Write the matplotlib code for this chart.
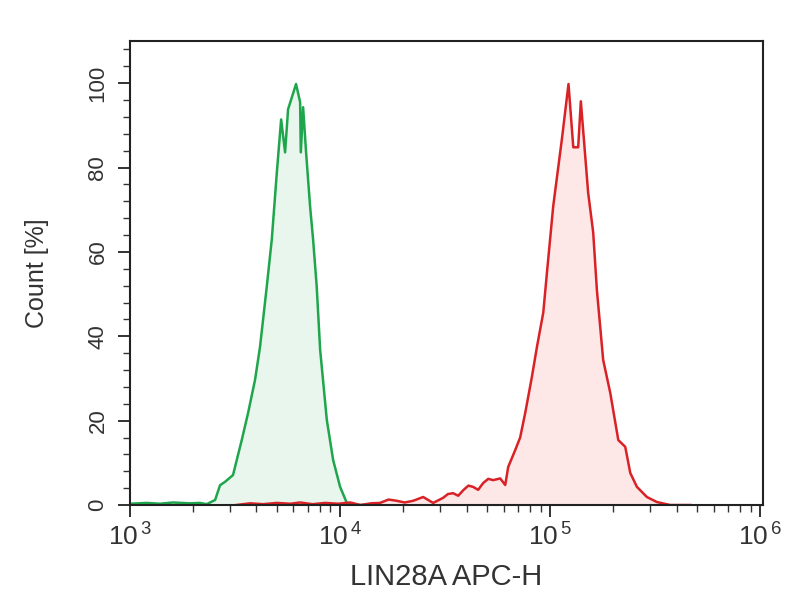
import matplotlib.pyplot as plt
from matplotlib.ticker import FixedLocator, MultipleLocator, NullFormatter

plt.rcParams['font.family'] = ['Liberation Sans', 'DejaVu Sans']
plt.rcParams['mathtext.fontset'] = 'custom'
plt.rcParams['mathtext.rm'] = 'Liberation Sans'

# green histogram (control), LIN28A APC-H value vs count %
green_x = [1000, 1200, 1389, 1600, 1931, 2150, 2318, 2541, 2683, 2834, 3092,
           3403, 3647, 3937, 4158, 4477, 4731, 4998, 5240, 5472, 5654, 6170,
           6452, 6500, 6666, 6888, 7196, 7436, 7738, 8035, 8643, 9262, 10000,
           10763, 12017, 13894]
green_y = [0.3, 0.5, 0.3, 0.6, 0.4, 0.5, 0.2, 1.2, 4.7, 5.5, 7.1,
           15.4, 21.8, 29.7, 37.5, 51.8, 63.0, 78.8, 91.4, 83.6, 93.8, 99.8,
           95.5, 83.6, 94.3, 83.6, 70.8, 63.0, 51.8, 36.8, 20.2, 10.7, 4.3,
           0.5, 0.0, 0.0]

# red histogram (LIN28A stained)
red_x = [3200, 3727, 4300, 5000, 5800, 6452, 7400, 8500, 9800, 11164, 12500,
         14000, 15497, 17000, 18607, 20300, 22265, 24851, 27722, 30925, 32600,
         34504, 36500, 38537, 40800, 42975, 45400, 47947, 50700, 53546, 57809,
         61094, 63096, 68113, 71943, 76030, 81846, 86488, 92680, 96460, 103340,
         113650, 122200, 128800, 135900, 139900, 151600, 160200, 166800,
         178700, 193100, 210900, 227600, 240500, 258700, 288500, 322200,
         372800, 464200]
red_y = [0.0, 0.4, 0.2, 0.5, 0.3, 0.6, 0.2, 0.5, 0.3, 0.6, 0.0,
         0.4, 0.5, 1.3, 1.0, 0.6, 1.0, 1.9, 0.5, 1.7, 2.6,
         2.8, 2.2, 3.5, 4.6, 4.3, 3.6, 5.2, 6.2, 5.9, 6.3,
         4.75, 9.0, 13.0, 16.0, 21.8, 30.4, 37.5, 45.6, 55.0, 70.8,
         86.7, 99.8, 84.8, 84.8, 95.7, 74.0, 64.6, 51.0,
         34.4, 26.6, 15.4, 13.8, 7.6, 4.3, 1.9, 0.7,
         0.0, 0.0]

fig = plt.figure(figsize=(8.04, 6.0), dpi=100)
ax = fig.add_axes([0.1617, 0.1583, 0.7873, 0.7734])

ax.fill_between(green_x, green_y, 0, color='#e9f6ed', lw=0)
ax.fill_between(red_x, red_y, 0, color='#fde7e7', lw=0)
ax.plot(green_x, green_y, color='#1fa64c', lw=1.8)
ax.plot(red_x, red_y, color='#d92226', lw=1.8)

ax.set_xscale('log')
ax.set_xlim(1000, 1.03e6)
ax.set_ylim(0, 110)

ax.xaxis.set_major_locator(FixedLocator([1e3, 1e4, 1e5, 1e6]))
ax.set_xticklabels([r'$\mathregular{10^{\,3}}$', r'$\mathregular{10^{\,4}}$',
                    r'$\mathregular{10^{\,5}}$', r'$\mathregular{10^{\,6}}$'])
ax.xaxis.set_minor_formatter(NullFormatter())
ax.yaxis.set_major_locator(FixedLocator([0, 20, 40, 60, 80, 100]))
ax.yaxis.set_minor_locator(MultipleLocator(4))

for s in ax.spines.values():
    s.set_linewidth(1.5)
    s.set_color('#222222')

ax.tick_params(which='major', length=8.5, width=1.3, color='#222222')
ax.tick_params(which='minor', length=5, width=1.0, color='#333333')
ax.tick_params(axis='x', which='major', labelsize=19, pad=5, labelcolor='#333333')
ax.tick_params(axis='y', which='major', labelsize=16, pad=7, labelcolor='#333333')
for lab in ax.get_yticklabels():
    lab.set_rotation(90)
    lab.set_va('center')

ax.set_xlabel('LIN28A APC-H', fontsize=21, color='#333333', labelpad=9)
ax.set_ylabel('Count [%]', fontsize=18, color='#333333', labelpad=28)

fig.savefig('out.png', dpi=100)
